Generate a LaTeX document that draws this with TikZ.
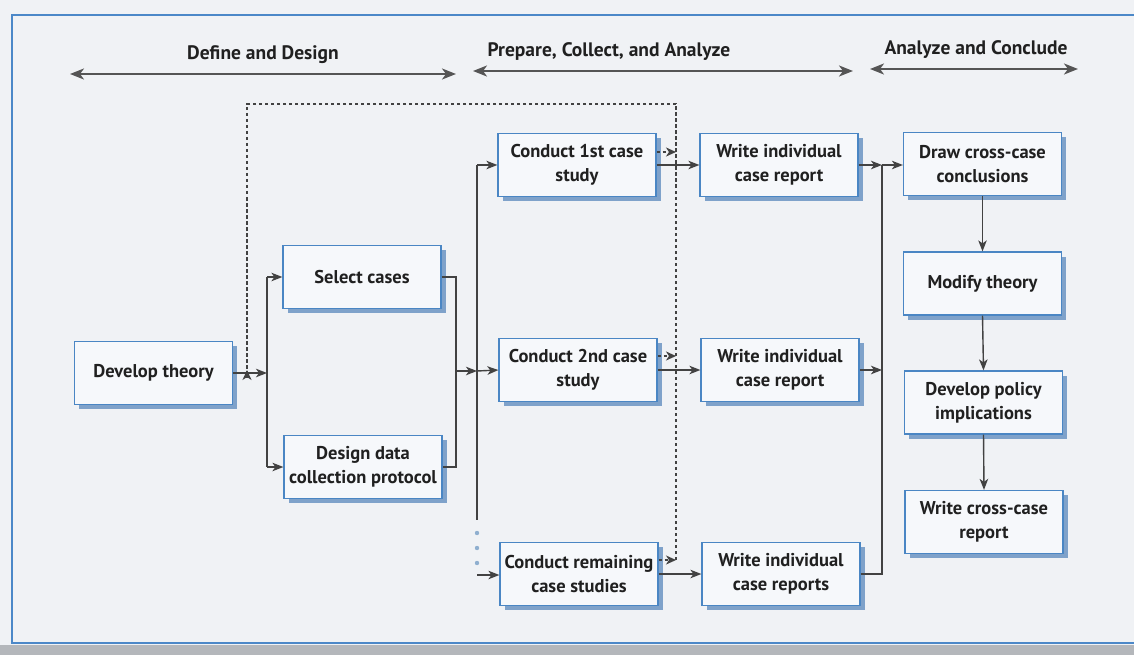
\documentclass[tikz,border=0pt]{standalone}
\usepackage{fontspec}
\setmainfont{PT Sans}
\usetikzlibrary{arrows.meta,shadows}
\definecolor{bg}{HTML}{F0F2F5}
\definecolor{boxblue}{HTML}{4A86C4}
\definecolor{boxfill}{HTML}{F6F8FB}
\definecolor{shadowc}{HTML}{7FA2CA}
\definecolor{linec}{HTML}{424242}
\definecolor{txt}{HTML}{202020}
\definecolor{phasec}{HTML}{555555}
\definecolor{band}{HTML}{B4B7BB}
\definecolor{framec}{HTML}{4C88C8}
\definecolor{dotc}{HTML}{8FAFCF}
\begin{document}
\begin{tikzpicture}[x=1pt,y=-1pt,
 stepbox/.style={draw=boxblue, line width=1.2pt, fill=boxfill, minimum width=158pt, minimum height=63pt, align=center, font=\fontsize{18.5}{24}\selectfont\bfseries, text=txt, inner sep=2pt, drop shadow={shadow xshift=4.5pt,shadow yshift=-4.5pt,fill=shadowc,opacity=1}},
 conn/.style={draw=linec, line width=1.4pt, -{Stealth[length=11pt,width=8.5pt,inset=3pt]}},
 plain/.style={draw=linec, line width=1.4pt},
 dotl/.style={draw=linec, line width=1.6pt, dash pattern=on 3.5pt off 2.5pt},
 dotarrow/.style={dotl, -{Stealth[length=10pt,width=9pt,inset=3pt]}},
 phase/.style={draw=phasec, line width=2.2pt, {Stealth[length=14pt,width=11pt,inset=4pt]}-{Stealth[length=14pt,width=11pt,inset=4pt]}},
 phasetxt/.style={font=\fontsize{19.5}{22}\selectfont\bfseries, text=txt}
]
\useasboundingbox (0,0) rectangle (1134,655);
\fill[bg] (0,0) rectangle (1134,655);
\fill[band] (0,645) rectangle (1134,655);
\draw[framec, line width=1.5pt] (1140,15) -- (12,15) -- (12,643) -- (1140,643);

% phase headers
\node[phasetxt] (h1) at (263,55) {Define and Design};
\node[phasetxt] (h2) at (609,52) {Prepare, Collect, and Analyze};
\node[phasetxt] (h3) at (976,50) {Analyze and Conclude};
\coordinate (h1l) at (70,74); \coordinate (h1r) at (456,74);
\coordinate (h2l) at (473,71); \coordinate (h2r) at (853,71);
\coordinate (h3l) at (870,69); \coordinate (h3r) at (1078,69);
\draw[phase] (h1l) -- (h1r);
\draw[phase] (h2l) -- (h2r);
\draw[phase] (h3l) -- (h3r);

% boxes
\node[stepbox] (dev) at (153.5,373) {Develop theory};
\node[stepbox] (sel) at (362,277) {Select cases};
\node[stepbox] (des) at (363,467) {Design data\\collection protocol};
\node[stepbox] (c1) at (577,165) {Conduct 1st case\\study};
\node[stepbox] (c2) at (578,370) {Conduct 2nd case\\study};
\node[stepbox] (c3) at (579,574) {Conduct remaining\\case studies};
\node[stepbox] (w1) at (779,165) {Write individual\\case report};
\node[stepbox] (w2) at (780,370) {Write individual\\case report};
\node[stepbox] (w3) at (781,574) {Write individual\\case reports};
\node[stepbox] (dr) at (982.5,164) {Draw cross-case\\conclusions};
\node[stepbox] (mod) at (982.5,283.5) {Modify theory};
\node[stepbox] (pol) at (983.5,402.5) {Develop policy\\implications};
\node[stepbox] (wcr) at (984,522) {Write cross-case\\report};

% define & design connectors
\coordinate (j1) at (267,373);
\draw[conn] (dev.east) -- (j1);
\draw[plain] (j1 |- sel.west) -- (j1 |- des.west);
\draw[conn] (j1 |- sel.west) -- (sel.west);
\draw[conn] (j1 |- des.west) -- (des.west);
\coordinate (j2) at (456,371);
\draw[plain] (sel.east) -- (j2 |- sel.east) -- (j2 |- des.east) -- (des.east);
\coordinate (j3) at (477,371);
\draw[conn] (j2) -- (j3);

% case study fan-out
\coordinate (v1) at (477,165);
\coordinate (v2) at (477,520);
\coordinate (v3) at (477,575);
\draw[plain] (v1) -- (v2);
\draw[conn] (v1) -- (c1.west);
\draw[conn] (j3) -- (c2.west);
\draw[conn] (v3) -- (c3.west |- v3);
\foreach \yy in {533,548,563} \fill[dotc] (477,\yy) circle (2.2pt);

% conduct -> write
\draw[conn] (c1.east) -- (w1.west);
\draw[conn] (c2.east) -- (w2.west);
\draw[conn] (c3.east) -- (w3.west);

% dotted feedback
\coordinate (d1) at (676,152);
\coordinate (d2) at (676,356);
\coordinate (d3) at (676,560);
\coordinate (dtop) at (676,104);
\coordinate (dleft) at (247,104);
\coordinate (dend) at (247,370);
\draw[dotarrow] ([yshift=13pt]c1.east) -- (d1);
\draw[dotarrow] ([yshift=14pt]c2.east) -- (d2);
\draw[dotarrow] ([yshift=14pt]c3.east) -- (d3);
\draw[dotl] (d3) -- (dtop) -- (dleft) -- ([yshift=-8pt]dleft |- dend);
\draw[dotarrow] ([yshift=-6pt]dleft |- dend) -- (dend);

% write -> cross-case
\coordinate (k1) at (882,165);
\coordinate (k2) at (882,370);
\coordinate (k3) at (882,574);
\draw[conn] (w1.east) -- (k1);
\draw[conn] (w2.east) -- (k2);
\draw[plain] (w3.east) -- (k3) -- (k1);
\draw[conn] (k1) -- (dr.west |- k1);

% analyze and conclude chain
\draw[conn] (dr.south) -- (mod.north);
\draw[conn] (mod.south) -- (pol.north);
\draw[conn] (pol.south) -- (wcr.north);
\end{tikzpicture}
\end{document}
